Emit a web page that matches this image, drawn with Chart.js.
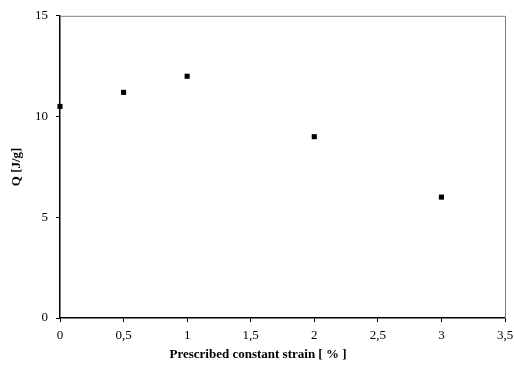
<!DOCTYPE html>
<html>
<head>
<meta charset="utf-8">
<script src="https://cdn.jsdelivr.net/npm/chart.js"></script>
<style>
  html,body{margin:0;padding:0;background:#fff}
  #wrap{width:514px;height:371px}
</style>
</head>
<body>
<div id="wrap"><canvas id="c" width="514" height="371"></canvas></div>
<script>
/* data */
const STRAIN = [0, 0.5, 1, 2, 3];
const Q      = [10.5, 11.2, 12, 9, 6];
const X_TICKS = [0, 0.5, 1, 1.5, 2, 2.5, 3, 3.5];
const Y_TICKS = [0, 5, 10, 15];
const X_TITLE = 'Prescribed constant strain [ % ]';
const Y_TITLE = 'Q [J/g]';

const FONT = "'Liberation Serif', 'Times New Roman', serif";

// grey frame on top / right + the two axis titles, placed like the original
const frame = {
  id:'frame',
  afterDraw(ch){
    const {ctx, chartArea:a} = ch;
    ctx.save();
    ctx.strokeStyle = '#808080';
    ctx.lineWidth = 1;
    ctx.beginPath();
    ctx.moveTo(a.left, a.top+0.5);
    ctx.lineTo(a.right+0.5, a.top+0.5);
    ctx.lineTo(a.right+0.5, a.bottom);
    ctx.stroke();

    ctx.fillStyle = '#000';
    ctx.font = `bold 13px ${FONT}`;
    ctx.textAlign = 'center';
    ctx.textBaseline = 'middle';
    ctx.fillText(X_TITLE, 258, 355);
    ctx.translate(17, (a.top + a.bottom)/2);
    ctx.rotate(-Math.PI/2);
    ctx.fillText(Y_TITLE, 0, 0);
    ctx.restore();
  }
};

new Chart(document.getElementById('c'), {
  type:'scatter',
  data:{
    datasets:[{
      data: STRAIN.map((x,i)=>({x, y:Q[i]})),
      pointStyle:'rect',
      pointRadius:3.6,
      pointHoverRadius:3.6,
      backgroundColor:'#000',
      borderColor:'#000',
      borderWidth:0,
      clip:false
    }]
  },
  options:{
    responsive:false,
    animation:false,
    layout:{padding:{top:14, right:0, left:0, bottom:0}},
    plugins:{legend:{display:false}, tooltip:{enabled:false}},
    scales:{
      x:{
        type:'linear', min:0, max:3.5,
        afterBuildTicks: s => { s.ticks = X_TICKS.map(v=>({value:v})); },
        afterFit: s => { s.height = 53; s.paddingRight = 9; },
        ticks:{
          color:'#000', padding:6,
          font:{family:FONT, size:13},
          maxRotation:0,
          callback: v => String(v).replace('.', ',')
        },
        grid:{drawOnChartArea:false, drawTicks:true, tickLength:4, tickColor:'#000'},
        border:{display:true, color:'#000', width:1.5}
      },
      y:{
        type:'linear', min:0, max:15,
        afterBuildTicks: s => { s.ticks = Y_TICKS.map(v=>({value:v})); },
        afterFit: s => { s.width = 60; },
        ticks:{color:'#000', padding:8, font:{family:FONT, size:13}},
        grid:{drawOnChartArea:false, drawTicks:true, tickLength:4, tickColor:'#000'},
        border:{display:true, color:'#000', width:1.5}
      }
    }
  },
  plugins:[frame]
});
</script>
</body>
</html>
